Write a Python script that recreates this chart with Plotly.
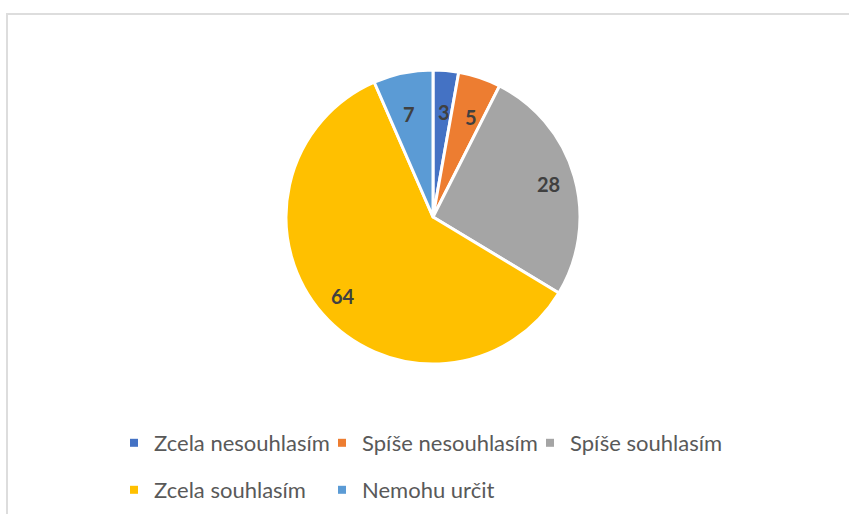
import math
import plotly.graph_objects as go

categories = ["Zcela nesouhlasím", "Spíše nesouhlasím", "Spíše souhlasím", "Zcela souhlasím", "Nemohu určit"]
values = [3, 5, 28, 64, 7]
colors = ["#4472C4", "#ED7D31", "#A5A5A5", "#FFC000", "#5B9BD5"]
legend_rows = ["legend", "legend", "legend", "legend2", "legend2"]

W, H = 849, 514
cx, cy, R = 433, 217, 147
FONT = "Lato"

fig = go.Figure()
fig.add_trace(go.Pie(
    labels=categories, values=values, sort=False, direction="clockwise", rotation=0,
    marker=dict(colors=colors, line=dict(color="white", width=3)),
    textinfo="none", hoverinfo="label+value", showlegend=False,
    domain=dict(x=[(cx - R) / W, (cx + R) / W], y=[1 - (cy + R) / H, 1 - (cy - R) / H]),
))

# data labels at "inside end" position (~0.815 R)
total = sum(values)
cum = 0
for v in values:
    mid = (cum + v / 2) / total * 2 * math.pi
    cum += v
    rr = 0.815 * R
    x = cx + rr * math.sin(mid)
    y = cy - rr * math.cos(mid)
    fig.add_annotation(x=x / W, y=1 - y / H, xref="paper", yref="paper", text=f"<b>{v}</b>",
                       showarrow=False, font=dict(family=FONT, size=20, color="#404040"))

# legend via dummy traces with small square markers
for c, col, lg in zip(categories, colors, legend_rows):
    fig.add_trace(go.Scatter(x=[None], y=[None], mode="markers", name=c, legend=lg,
                             marker=dict(symbol="square", size=8, color=col), hoverinfo="skip"))

fig.add_shape(type="rect", xref="paper", yref="paper", x0=7 / W, x1=1.05, y0=-0.05, y1=1 - 14 / H,
              line=dict(color="#DDDDDD", width=2), fillcolor="rgba(0,0,0,0)")

leg_common = dict(orientation="h", xanchor="left", yanchor="middle",
                  font=dict(family=FONT, size=22, color="#595959"),
                  entrywidth=163, entrywidthmode="pixels", tracegroupgap=0, itemsizing="trace",
                  bgcolor="rgba(0,0,0,0)")

fig.update_layout(
    width=W, height=H, margin=dict(l=0, r=0, t=0, b=0),
    paper_bgcolor="white", plot_bgcolor="white",
    xaxis=dict(visible=False), yaxis=dict(visible=False),
    showlegend=True,
    legend=dict(x=114 / W, y=1 - 443 / H, **leg_common),
    legend2=dict(x=114 / W, y=1 - 490 / H, **leg_common),
)

fig.write_html("out.html", config={"displayModeBar": False},
               post_script="document.body.style.margin='0';")
